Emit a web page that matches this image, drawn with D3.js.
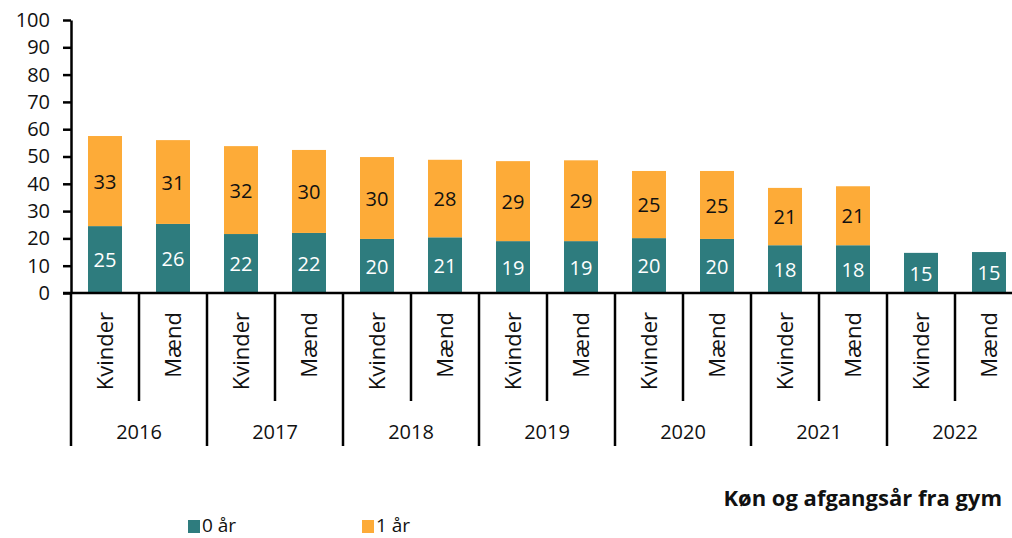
<!DOCTYPE html>
<html>
<head>
<meta charset="utf-8">
<script src="https://cdnjs.cloudflare.com/ajax/libs/d3/7.8.5/d3.min.js"></script>
<style>
  body { margin: 0; background: #fff; }
  svg { font-family: "Open Sans", sans-serif; }
</style>
</head>
<body>
<div id="chart"></div>
<script>
// data
const years = ["2016", "2017", "2018", "2019", "2020", "2021", "2022"];
const genders = ["Kvinder", "Mænd"];
const zeroYear = [24.5, 25.3, 21.6, 22.0, 19.8, 20.4, 19.0, 19.0, 20.1, 19.8, 17.5, 17.5, 14.7, 15.0];
const oneYear  = [33.0, 30.7, 32.2, 30.4, 30.0, 28.4, 29.3, 29.6, 24.6, 24.9, 21.0, 21.6, 0, 0];
const zeroLabels = [25, 26, 22, 22, 20, 21, 19, 19, 20, 20, 18, 18, 15, 15];
const oneLabels  = [33, 31, 32, 30, 30, 28, 29, 29, 25, 25, 21, 21, null, null];
const yTicks = [0, 10, 20, 30, 40, 50, 60, 70, 80, 90, 100];
const seriesNames = ["0 år", "1 år"];
const colors = ["#2e7c7e", "#fdab38"];

const W = 1012, H = 538;
const x0 = 71, step = 68;

const cats = [];
years.forEach(y => genders.forEach(g => cats.push({year: y, gender: g, key: y + "|" + g})));
cats.forEach((c, i) => {
  c.v0 = zeroYear[i]; c.v1 = oneYear[i];
  c.l0 = zeroLabels[i]; c.l1 = oneLabels[i];
});

const svg = d3.select("#chart").append("svg")
  .attr("width", W).attr("height", H);

const x = d3.scaleBand()
  .domain(cats.map(c => c.key))
  .range([x0, x0 + step * cats.length])
  .paddingInner(0.5).paddingOuter(0.25);

const y = d3.scaleLinear().domain([0, 100]).range([293, 20]);

// bars
const g = svg.append("g");
g.selectAll("rect.s0").data(cats).enter().append("rect")
  .attr("x", d => x(d.key)).attr("width", x.bandwidth())
  .attr("y", d => y(d.v0)).attr("height", d => y(0) - y(d.v0))
  .attr("fill", colors[0]);
g.selectAll("rect.s1").data(cats.filter(d => d.v1 > 0)).enter().append("rect")
  .attr("x", d => x(d.key)).attr("width", x.bandwidth())
  .attr("y", d => y(d.v0 + d.v1)).attr("height", d => y(d.v0) - y(d.v0 + d.v1))
  .attr("fill", colors[1]);

// value labels
g.selectAll("text.l0").data(cats).enter().append("text")
  .attr("x", d => x(d.key) + x.bandwidth() / 2)
  .attr("y", d => (y(0) + y(d.v0)) / 2)
  .attr("dy", "0.38em")
  .attr("text-anchor", "middle")
  .attr("font-size", 20).attr("fill", "#fff")
  .text(d => d.l0);
g.selectAll("text.l1").data(cats.filter(d => d.l1 != null)).enter().append("text")
  .attr("x", d => x(d.key) + x.bandwidth() / 2)
  .attr("y", d => (y(d.v0) + y(d.v0 + d.v1)) / 2)
  .attr("dy", "0.38em")
  .attr("text-anchor", "middle")
  .attr("font-size", 20).attr("fill", "#111")
  .text(d => d.l1);

// y axis
const yAxis = svg.append("g")
  .attr("transform", `translate(${x0},0)`)
  .call(d3.axisLeft(y).tickValues(yTicks).tickSize(8).tickSizeOuter(0).tickPadding(13));
yAxis.select(".domain").attr("stroke", "#000").attr("stroke-width", 2.5);
yAxis.selectAll(".tick line").attr("stroke", "#000").attr("stroke-width", 2.5);
yAxis.selectAll(".tick text").attr("font-size", 20).attr("fill", "#111")
  .attr("font-family", "Open Sans, sans-serif");

// x axis line
const xr = x.range();
svg.append("line")
  .attr("x1", x0 - 8).attr("x2", xr[1]).attr("y1", y(0)).attr("y2", y(0))
  .attr("stroke", "#000").attr("stroke-width", 2.5);

// category separators
const bounds = d3.range(cats.length + 1).map(i => x0 + i * step);
svg.selectAll("line.sep").data(bounds).enter().append("line")
  .attr("x1", d => d).attr("x2", d => d)
  .attr("y1", y(0))
  .attr("y2", (d, i) => i % 2 === 0 ? 446 : 401)
  .attr("stroke", "#000").attr("stroke-width", 2.5);

// gender labels (rotated)
svg.selectAll("text.gender").data(cats).enter().append("text")
  .attr("transform", d => `translate(${x(d.key) + x.bandwidth() / 2 + 8},312) rotate(-90)`)
  .attr("text-anchor", "end")
  .attr("font-size", 22).attr("fill", "#111")
  .text(d => d.gender);

// year labels
svg.selectAll("text.year").data(years).enter().append("text")
  .attr("x", (d, i) => x0 + (2 * i + 1) * step)
  .attr("y", 439)
  .attr("text-anchor", "middle")
  .attr("font-size", 20).attr("fill", "#111")
  .text(d => d);

// axis title
svg.append("text")
  .attr("x", 1002).attr("y", 506)
  .attr("text-anchor", "end")
  .attr("font-size", 22).attr("font-weight", "bold").attr("fill", "#111")
  .text("Køn og afgangsår fra gym");

// legend
const legX = [188, 362];
const leg = svg.selectAll("g.leg").data(seriesNames).enter().append("g")
  .attr("transform", (d, i) => `translate(${legX[i]},520)`);
leg.append("rect").attr("width", 12).attr("height", 13)
  .attr("fill", (d, i) => colors[i]);
leg.append("text")
  .attr("x", 14).attr("y", 12)
  .attr("font-size", 19).attr("fill", "#111")
  .text(d => d);
</script>
</body>
</html>
